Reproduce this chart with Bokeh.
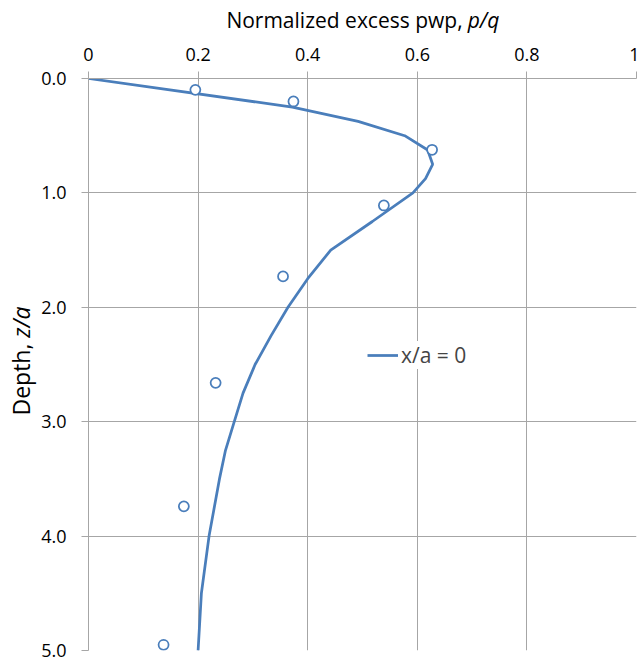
from bokeh.plotting import figure
from bokeh.layouts import column, row
from bokeh.models import Range1d, FixedTicker, Legend, LegendItem, ColumnDataSource
from bokeh.core.properties import value
from bokeh.embed import file_html
from bokeh.resources import INLINE
import math

# ---- data ----
curve_z = [0, 0.25, 0.375, 0.5, 0.625, 0.75, 0.875, 1.0, 1.25, 1.5, 1.75, 2.0,
           2.25, 2.5, 2.75, 3.0, 3.25, 3.5, 4.0, 4.5, 5.0]
curve_p = [0, 0.372, 0.492, 0.577, 0.619, 0.628, 0.615, 0.592, 0.518, 0.442, 0.400, 0.364,
           0.333, 0.304, 0.282, 0.266, 0.250, 0.239, 0.220, 0.206, 0.200]

meas_p = [0.195, 0.374, 0.627, 0.539, 0.355, 0.232, 0.174, 0.137]
meas_z = [0.099, 0.201, 0.623, 1.110, 1.730, 2.660, 3.740, 4.950]

x_ticks = [0, 0.2, 0.4, 0.6, 0.8, 1.0]
x_tick_labels = ["0", "0.2", "0.4", "0.6", "0.8", "1"]
y_ticks = [0, 1, 2, 3, 4, 5]
y_tick_labels = ["0.0", "1.0", "2.0", "3.0", "4.0", "5.0"]

series_label = "x/a = 0"
x_title_main = "Normalized excess pwp,"
x_title_ital = "p/q"
y_title_main = "Depth,"
y_title_ital = "z/a"

BLUE = "#4A7EBB"
GRID = "#a6a6a6"
FONT = "Open Sans"

TOTAL_W, TOTAL_H = 639, 661
TOP_H = 34      # strip holding the x-axis title
LEFT_W = 38     # strip holding the y-axis title
MAIN_W, MAIN_H = TOTAL_W - LEFT_W, TOTAL_H - TOP_H


def strip(w, h):
    f = figure(width=w, height=h, x_range=Range1d(0, w), y_range=Range1d(h, 0),
               x_axis_type=None, y_axis_type=None, output_backend="svg",
               toolbar_location=None, min_border=0,
               background_fill_color="white", border_fill_color="white")
    f.outline_line_color = None
    return f


# --- x-axis title strip (centre-anchored pieces) ---
top = strip(TOTAL_W, TOP_H)
top.text(x=[344], y=[19], text=[x_title_main], text_align="center", text_baseline="middle",
         text_font=value(FONT), text_font_size=value("21px"), text_color="#000000")
top.text(x=[483], y=[19], text=[x_title_ital], text_align="center", text_baseline="middle",
         text_font=value(FONT), text_font_size=value("21px"), text_font_style="italic",
         text_color="#000000")

# --- y-axis title strip (rotated, centre-anchored pieces) ---
left = strip(LEFT_W, MAIN_H)
left.text(x=[20], y=[330], text=[y_title_main], angle=math.pi / 2, text_align="center",
          text_baseline="middle", text_font=value(FONT), text_font_size=value("23px"),
          text_color="#000000")
left.text(x=[20], y=[267], text=[y_title_ital], angle=math.pi / 2, text_align="center",
          text_baseline="middle", text_font=value(FONT), text_font_size=value("23px"),
          text_font_style="italic", text_color="#000000")

# --- main chart ---
p = figure(width=MAIN_W, height=MAIN_H, x_range=Range1d(0, 1), y_range=Range1d(5, 0),
           x_axis_location="above", output_backend="svg", toolbar_location=None,
           min_border_left=87 - LEFT_W, min_border_right=3, min_border_top=78 - TOP_H,
           min_border_bottom=11, background_fill_color="white", border_fill_color="white")
p.outline_line_color = None

p.xaxis.ticker = FixedTicker(ticks=x_ticks)
p.yaxis.ticker = FixedTicker(ticks=y_ticks)
p.xgrid.ticker = FixedTicker(ticks=x_ticks)
p.ygrid.ticker = FixedTicker(ticks=y_ticks)
p.xaxis.major_label_overrides = {v: s for v, s in zip(x_ticks, x_tick_labels)}
p.yaxis.major_label_overrides = {v: s for v, s in zip(y_ticks, y_tick_labels)}

for ax in (p.xaxis, p.yaxis):
    ax.axis_line_color = GRID
    ax.major_tick_line_color = GRID
    ax.minor_tick_line_color = None
    ax.major_tick_out = 7
    ax.major_tick_in = 0
    ax.major_label_text_font = FONT
    ax.major_label_text_font_size = "18px"
    ax.major_label_text_color = "#000000"
p.xaxis.major_label_standoff = 11
p.yaxis.major_label_standoff = 15

p.grid.grid_line_color = GRID
p.grid.grid_line_width = 1

src_line = ColumnDataSource(dict(x=curve_p, y=curve_z))
src_pts = ColumnDataSource(dict(x=meas_p, y=meas_z))
r_line = p.line("x", "y", source=src_line, line_color=BLUE, line_width=2.75)
r_pts = p.scatter("x", "y", source=src_pts, marker="circle", size=10,
                  line_color=BLUE, fill_color="white", line_width=1.75)

legend = Legend(items=[LegendItem(label=series_label, renderers=[r_line])],
                location=(279, 281), label_text_font=FONT, label_text_font_size="21px",
                glyph_width=31, padding=10, label_standoff=3, margin=0,
                border_line_color=None, background_fill_color="white", background_fill_alpha=1)
p.add_layout(legend)

layout = column(top, row(left, p, spacing=0), spacing=0)
open("out.html", "w").write(file_html(layout, INLINE))
